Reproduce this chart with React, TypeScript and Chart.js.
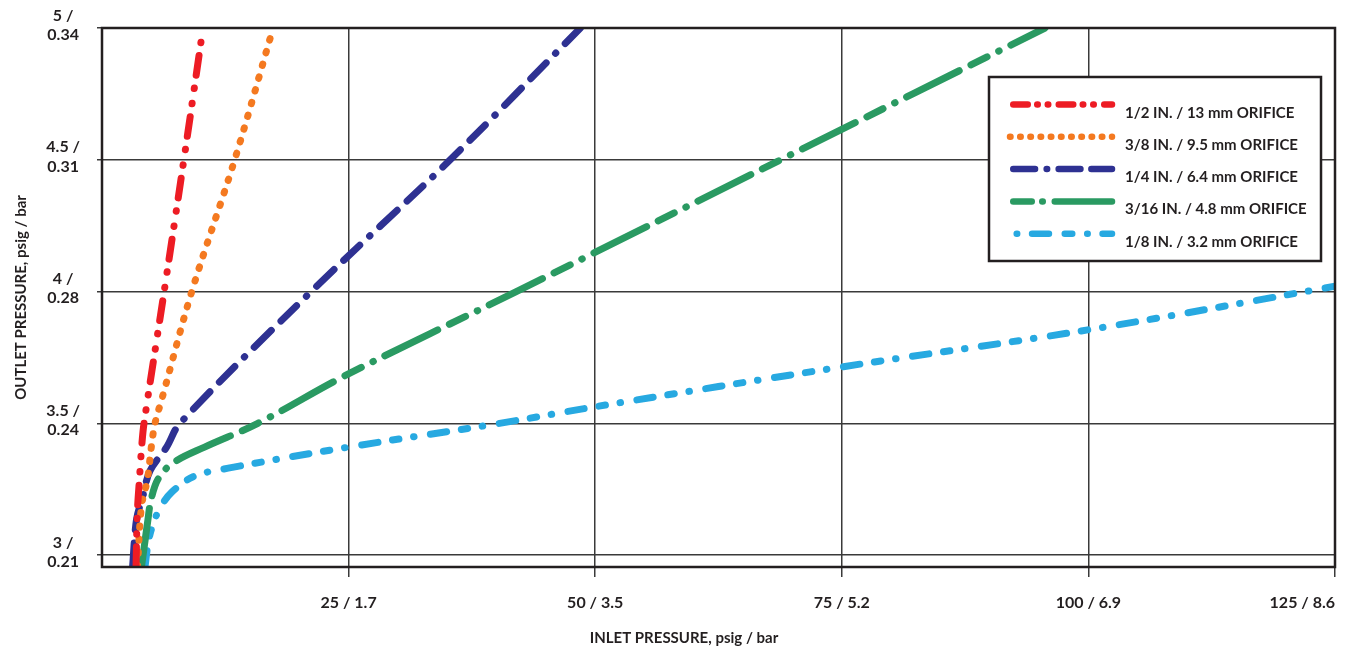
import { useEffect, useRef } from 'react';
import { Chart, registerables } from 'chart.js';

Chart.register(...registerables);

// ---- data ----
const SERIES_LABELS = [
  '1/2 IN. / 13 mm ORIFICE',
  '3/8 IN. / 9.5 mm ORIFICE',
  '1/4 IN. / 6.4 mm ORIFICE',
  '3/16 IN. / 4.8 mm ORIFICE',
  '1/8 IN. / 3.2 mm ORIFICE',
];

const HALF_IN_X = [3.45, 3.58, 3.8, 4.02, 4.26, 6.3, 8.3, 10.24];
const HALF_IN_Y = [2.955, 3.16, 3.29, 3.41, 3.5, 4.0, 4.5, 5.0];

const THREE_EIGHTHS_X = [3.6, 4.0, 4.6, 5.0, 5.37, 6.05, 9.1, 13.45, 17.35];
const THREE_EIGHTHS_Y = [2.955, 3.185, 3.286, 3.41, 3.5, 3.59, 4.0, 4.5, 5.0];

const QUARTER_IN_X = [3.1, 3.5, 4.12, 4.87, 6.55, 7.9, 21.2, 35.3, 48.5];
const QUARTER_IN_Y = [2.955, 3.135, 3.22, 3.32, 3.41, 3.5, 4.0, 4.5, 5.0];

const THREE_SIXTEENTHS_X = [4.0, 4.66, 4.97, 5.7, 7.2, 10.4, 15.8, 24.6, 42.0, 68.8, 95.6];
const THREE_SIXTEENTHS_Y = [2.955, 3.135, 3.21, 3.29, 3.35, 3.41, 3.5, 3.68, 4.0, 4.5, 5.0];

const EIGHTH_IN_X = [4.36, 4.7, 5.2, 5.9, 7.1, 9.4, 12.8, 25, 40.3, 50, 75, 100, 125];
const EIGHTH_IN_Y = [2.955, 3.05, 3.12, 3.18, 3.24, 3.3, 3.33, 3.41, 3.5, 3.563, 3.714, 3.855, 4.02];

const X_TICK_VALUES = [0, 25, 50, 75, 100, 125];
const X_TICK_LABELS = ['', '25 / 1.7', '50 / 3.5', '75 / 5.2', '100 / 6.9', '125 / 8.6'];
const Y_TICK_VALUES = [3, 3.5, 4, 4.5, 5];
const Y_TICK_LABELS = [
  ['3 /', '0.21'],
  ['3.5 /', '0.24'],
  ['4 /', '0.28'],
  ['4.5 /', '0.31'],
  ['5 /', '0.34'],
];

// ---- styles ----
const SERIES_COLORS = ['#ed1c24', '#f47920', '#2e3192', '#2a9a62', '#27a9e1'];
const SERIES_DASH = [
  [20, 13, 0.5, 15, 0.5, 13],
  [1.5, 11.8],
  [24, 13.5, 22, 13.5, 0.5, 13.5],
  [59, 13, 18, 13, 0.5, 13],
  [16.5, 14.8, 6.5, 14.85, 0.5, 16.6],
];
const LEGEND_DASH = [
  [14.5, 9.5, 0.5, 10, 0.5, 10.5],
  [0.5, 9.7],
  [21.8, 11.6, 0.5, 11.5, 21.8, 10.9],
  [18.5, 10.5, 0.5, 12, 57.5, 10.5],
  [0.5, 14.85, 16.9, 15.8, 7.5, 14.95],
];
const LEGEND_SAMPLE_START = [24.25, 21, 24.25, 24.25, 27.7];

const INK = '#231f20';
const GRID = '#3a3a3a';
const FONT = 'Lato, "Open Sans", sans-serif';

const SERIES_X = [HALF_IN_X, THREE_EIGHTHS_X, QUARTER_IN_X, THREE_SIXTEENTHS_X, EIGHTH_IN_X];
const SERIES_Y = [HALF_IN_Y, THREE_EIGHTHS_Y, QUARTER_IN_Y, THREE_SIXTEENTHS_Y, EIGHTH_IN_Y];

const framePlugin = {
  id: 'plotFrame',
  afterDatasetsDraw(chart: any) {
    const { ctx, chartArea } = chart;
    ctx.save();
    ctx.lineWidth = 2.5;
    ctx.strokeStyle = INK;
    ctx.setLineDash([]);
    ctx.strokeRect(chartArea.left, chartArea.top, chartArea.right - chartArea.left, chartArea.bottom - chartArea.top);
    ctx.restore();
  },
};

const legendBoxPlugin = {
  id: 'legendBox',
  afterDraw(chart: any) {
    const { ctx, chartArea } = chart;
    const left = chartArea.right - 346;
    const top = chartArea.top + 49;
    const w = 332;
    const h = 184;
    ctx.save();
    ctx.fillStyle = '#ffffff';
    ctx.fillRect(left, top, w, h);
    ctx.lineWidth = 2.5;
    ctx.strokeStyle = INK;
    ctx.setLineDash([]);
    ctx.strokeRect(left, top, w, h);
    chart.data.datasets.forEach((ds: any, i: number) => {
      const y = top + 27.5 + i * 32.3;
      ctx.beginPath();
      ctx.setLineDash(LEGEND_DASH[i]);
      ctx.lineDashOffset = 0;
      ctx.lineCap = 'round';
      ctx.lineWidth = 6.5;
      ctx.strokeStyle = ds.borderColor;
      ctx.moveTo(left + LEGEND_SAMPLE_START[i], y);
      ctx.lineTo(left + 123, y);
      ctx.stroke();
      ctx.setLineDash([]);
      ctx.fillStyle = INK;
      ctx.font = `bold 15px ${FONT}`;
      ctx.textAlign = 'left';
      ctx.textBaseline = 'alphabetic';
      ctx.fillText(ds.label, left + 136, y + 13);
    });
    ctx.restore();
  },
};

export default function App() {
  const canvasRef = useRef<HTMLCanvasElement>(null);

  useEffect(() => {
    const canvas = canvasRef.current;
    if (!canvas) return;

    const datasets = SERIES_LABELS.map((label, i) => ({
      label,
      data: SERIES_X[i].map((x, j) => ({ x, y: SERIES_Y[i][j] })),
      borderColor: SERIES_COLORS[i],
      backgroundColor: SERIES_COLORS[i],
      borderWidth: 7,
      borderDash: SERIES_DASH[i],
      borderCapStyle: 'round' as const,
      borderJoinStyle: 'round' as const,
      pointRadius: 0,
      tension: 0.35,
      fill: false,
    }));

    const chart = new Chart(canvas, {
      type: 'line',
      data: { datasets },
      options: {
        animation: false,
        responsive: true,
        maintainAspectRatio: false,
        layout: { padding: { top: 28, left: 16, right: 0, bottom: 0 } },
        plugins: {
          legend: { display: false },
          tooltip: { enabled: false },
          title: {
            display: true,
            position: 'bottom',
            text: 'INLET PRESSURE, psig / bar',
            color: INK,
            font: { family: FONT, size: 15, weight: 'bold' },
            padding: { top: 10, bottom: 3 },
          },
        },
        scales: {
          x: {
            type: 'linear',
            min: 0,
            max: 125,
            afterBuildTicks: (scale: any) => {
              scale.ticks = X_TICK_VALUES.map((value) => ({ value }));
            },
            afterFit: (scale: any) => {
              scale.height = 52;
              scale.paddingLeft = 0;
              scale.paddingRight = 17;
            },
            ticks: {
              autoSkip: false,
              maxRotation: 0,
              align: 'inner',
              padding: 16,
              color: INK,
              font: { family: FONT, size: 16, weight: 'bold' },
              callback: (v: any) => X_TICK_LABELS[X_TICK_VALUES.indexOf(Number(v))] ?? '',
            },
            grid: {
              color: (ctx: any) => (ctx.tick && ctx.tick.value === 0 ? 'rgba(0,0,0,0)' : GRID),
              lineWidth: 1.5,
              tickLength: 10,
            },
            border: { display: false },
          },
          y: {
            type: 'linear',
            min: 2.955,
            max: 5,
            afterBuildTicks: (scale: any) => {
              scale.ticks = Y_TICK_VALUES.map((value) => ({ value }));
            },
            afterFit: (scale: any) => {
              scale.width = 86;
              scale.paddingTop = 0;
              scale.paddingBottom = 0;
            },
            ticks: {
              crossAlign: 'center',
              padding: 17,
              labelOffset: -3,
              color: INK,
              font: { family: FONT, size: 16, weight: 'bold' },
              callback: (v: any) => Y_TICK_LABELS[Y_TICK_VALUES.indexOf(Number(v))] ?? '',
            },
            grid: {
              color: GRID,
              lineWidth: 1.5,
              tickLength: 5,
            },
            border: { display: false },
            title: {
              display: true,
              text: 'OUTLET PRESSURE, psig / bar',
              color: INK,
              font: { family: FONT, size: 15, weight: 'bold' },
              padding: { top: -3.5, bottom: 0 },
            },
          },
        },
      },
      plugins: [framePlugin, legendBoxPlugin],
    } as any);

    return () => chart.destroy();
  }, []);

  return (
    <div style={{ position: 'fixed', left: 0, top: 0, width: 1352, height: 650, background: '#ffffff' }}>
      <canvas ref={canvasRef} />
    </div>
  );
}
